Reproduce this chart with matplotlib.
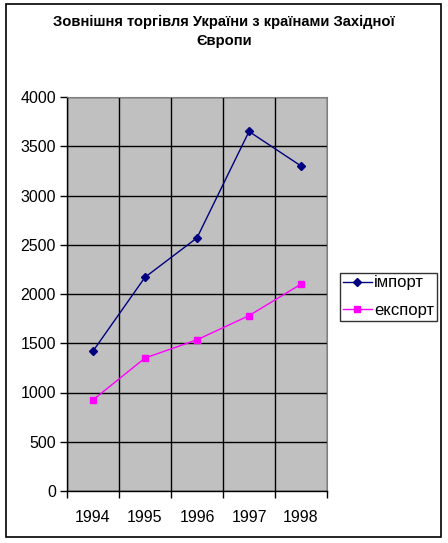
import matplotlib.pyplot as plt
from matplotlib.patches import Rectangle

years = ["1994", "1995", "1996", "1997", "1998"]
imports = [1420, 2170, 2570, 3650, 3300]
exports = [925, 1350, 1535, 1780, 2100]

plt.rcParams['font.family'] = ['Liberation Sans', 'DejaVu Sans']

fig = plt.figure(figsize=(4.48, 5.43), dpi=100)
fig.patches.append(Rectangle((6 / 448, 1 - 537 / 543), 435 / 448, 533 / 543,
                             transform=fig.transFigure, fill=False,
                             edgecolor="black", linewidth=1.2))

ax = fig.add_axes([67 / 448, 1 - 491 / 543, 260 / 448, 394 / 543])
ax.set_facecolor("#C0C0C0")

x = list(range(len(years)))
ax.plot(x, imports, color="#000080", marker="D", markersize=4.5, linewidth=1, label="імпорт")
ax.plot(x, exports, color="#FF00FF", marker="s", markersize=5, linewidth=1, label="експорт")

ax.set_xlim(-0.5, len(years) - 0.5)
ax.set_ylim(0, 4000)
ax.set_yticks(range(0, 4001, 500))
ax.set_xticks(x)
ax.set_xticklabels(years)
ax.set_xticks([i - 0.5 for i in range(len(years) + 1)], minor=True)
ax.tick_params(axis="x", which="major", length=0, pad=14, labelsize=11.5)
ax.tick_params(axis="x", which="minor", length=5, width=1, direction="out")
ax.tick_params(axis="y", length=5, width=1, direction="out", pad=3, labelsize=11.5)

ax.grid(True, axis="y", color="black", linewidth=1)
ax.grid(True, axis="x", which="minor", color="black", linewidth=1)
ax.set_axisbelow(True)
for s in ["top", "right"]:
    ax.spines[s].set_color("#808080")
for s in ["left", "bottom"]:
    ax.spines[s].set_linewidth(1)

fig.text(0.5, 1 - 31 / 543, "Зовнішня торгівля України з країнами Західної\nЄвропи",
         ha="center", va="center", fontsize=10.6, fontweight="bold", linespacing=1.45)

leg = fig.legend(loc="upper left", bbox_to_anchor=(340 / 448, 1 - 273 / 543),
                 frameon=True, fancybox=False, edgecolor="black", fontsize=12,
                 handlelength=1.75, handletextpad=0.15, borderpad=0.15, labelspacing=0.75,
                 borderaxespad=0)
leg.get_frame().set_linewidth(1)

fig.savefig("out.png", dpi=100)
